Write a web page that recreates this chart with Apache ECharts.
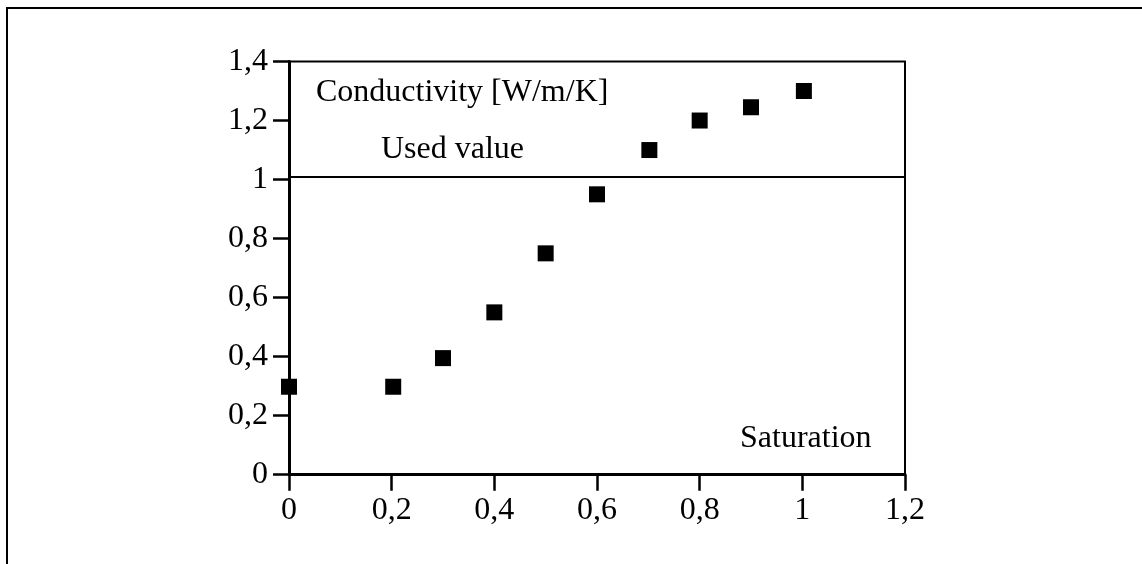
<!DOCTYPE html>
<html>
<head>
<meta charset="utf-8">
<script src="https://cdn.jsdelivr.net/npm/echarts@6/dist/echarts.min.js"></script>
<style>html,body{margin:0;padding:0;background:#fff}#c{width:1142px;height:564px}</style>
</head>
<body>
<div id="c"></div>
<script>
var saturation = [0, 0.203, 0.3, 0.4, 0.5, 0.6, 0.702, 0.8, 0.9, 1.003];
var conductivity = [0.298, 0.298, 0.395, 0.55, 0.75, 0.95, 1.10, 1.20, 1.245, 1.30];
var usedValue = 1.01;
var yTicks = {min: 0, max: 1.4, interval: 0.2};
var xTicks = {min: 0, max: 1.2, interval: 0.2};
var labels = {ylabel: 'Conductivity [W/m/K]', used: 'Used value', xlabel: 'Saturation'};

var pts = saturation.map(function (s, i) { return [s, conductivity[i]]; });
var fmt = function (v) { return String(+v.toFixed(2)).replace('.', ','); };
var font = '"Liberation Serif", "Times New Roman", serif';

var chart = echarts.init(document.getElementById('c'), null, {renderer: 'canvas'});
chart.setOption({
  animation: false,
  backgroundColor: '#fff',
  grid: {left: 289, right: 237, top: 61.5, bottom: 89.3, show: true, borderColor: '#000', borderWidth: 2, backgroundColor: 'transparent'},
  xAxis: {
    type: 'value', min: xTicks.min, max: xTicks.max, interval: xTicks.interval,
    splitLine: {show: false},
    axisLine: {show: true, onZero: false, lineStyle: {color: '#000', width: 3}},
    axisTick: {show: true, length: 16, lineStyle: {color: '#000', width: 2.5}},
    axisLabel: {color: '#000', fontFamily: font, fontSize: 32, margin: 20, formatter: fmt}
  },
  yAxis: {
    type: 'value', min: yTicks.min, max: yTicks.max, interval: yTicks.interval,
    splitLine: {show: false},
    axisLine: {show: true, onZero: false, lineStyle: {color: '#000', width: 3}},
    axisTick: {show: true, length: 16, lineStyle: {color: '#000', width: 2.5}},
    axisLabel: {color: '#000', fontFamily: font, fontSize: 32, margin: 21, formatter: fmt}
  },
  series: [{
    type: 'scatter',
    data: pts,
    symbol: 'rect',
    symbolSize: 16,
    itemStyle: {color: '#000', opacity: 1},
    markLine: {
      silent: true,
      symbol: 'none',
      label: {show: false},
      lineStyle: {color: '#000', width: 2, type: 'solid', opacity: 1},
      data: [{yAxis: usedValue}]
    }
  }],
  graphic: [
    {type: 'rect', shape: {x: 7, y: 8, width: 1300, height: 700}, style: {fill: 'none', stroke: '#000', lineWidth: 2}, silent: true},
    {type: 'text', left: 316, top: 77, style: {text: labels.ylabel, font: '32px ' + font, fill: '#000'}},
    {type: 'text', left: 381, top: 134, style: {text: labels.used, font: '32px ' + font, fill: '#000'}},
    {type: 'text', left: 740, top: 423, style: {text: labels.xlabel, font: '32px ' + font, fill: '#000'}}
  ]
});
</script>
</body>
</html>
